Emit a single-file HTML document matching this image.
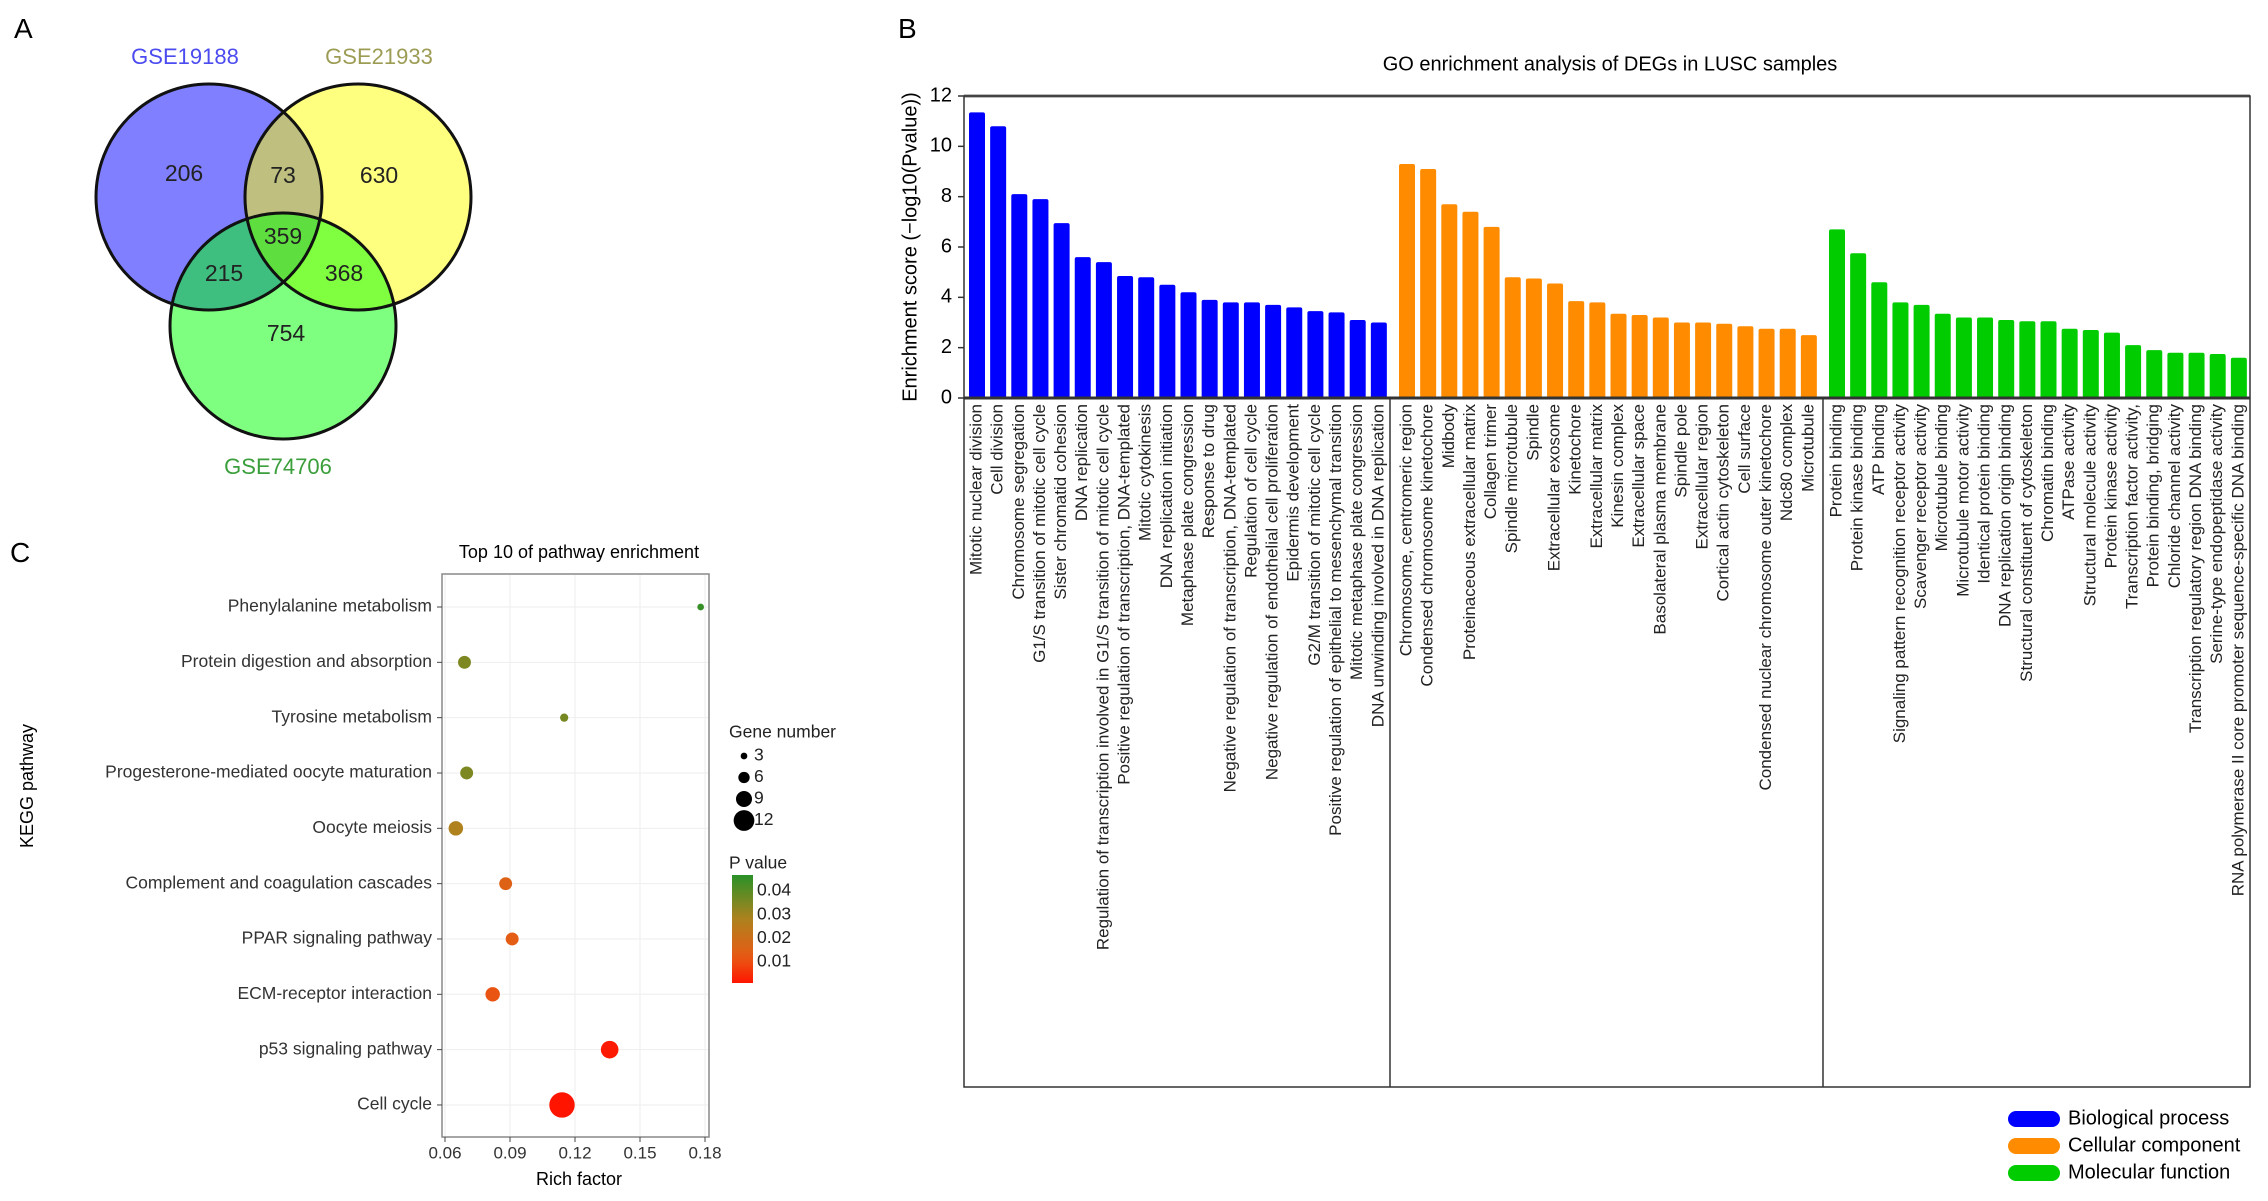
<!DOCTYPE html>
<html><head><meta charset="utf-8"><style>
body{margin:0;background:#fff;}
svg{display:block;font-family:"Liberation Sans",sans-serif;}
</style></head><body>
<svg id="fig" width="2268" height="1201" viewBox="0 0 2268 1201">
<!-- Panel A Venn -->
<g>
<text x="14" y="38" font-size="28">A</text>
<circle cx="209" cy="197" r="113" fill="rgba(0,0,255,0.5)"/>
<circle cx="358" cy="197" r="113" fill="rgba(255,255,0,0.5)"/>
<circle cx="283" cy="326" r="113" fill="rgba(0,255,0,0.5)"/>
<circle cx="209" cy="197" r="113" fill="none" stroke="#111" stroke-width="3"/>
<circle cx="358" cy="197" r="113" fill="none" stroke="#111" stroke-width="3"/>
<circle cx="283" cy="326" r="113" fill="none" stroke="#111" stroke-width="3"/>
<g font-size="23" text-anchor="middle" dominant-baseline="middle" fill="#222">
<text x="184" y="175">206</text>
<text x="283" y="177">73</text>
<text x="379" y="177">630</text>
<text x="283" y="238">359</text>
<text x="224" y="275">215</text>
<text x="344" y="275">368</text>
<text x="286" y="335">754</text>
</g>
<g font-size="22" text-anchor="middle" dominant-baseline="middle">
<text x="185" y="58" fill="#4b4bf0">GSE19188</text>
<text x="379" y="58" fill="#9c9c55">GSE21933</text>
<text x="278" y="468" fill="#3a9e3a">GSE74706</text>
</g>
</g>
<!-- Panel B -->
<g id="panelB">
<text x="898" y="38" font-size="28">B</text>
<text x="1610" y="65" font-size="20" text-anchor="middle" dominant-baseline="middle">GO enrichment analysis of DEGs in LUSC samples</text>
<text transform="translate(911,247) rotate(-90)" font-size="20" text-anchor="middle" dominant-baseline="middle">Enrichment score (−log10(Pvalue))</text>
</g>
<!-- Panel C -->
<g id="panelC">
<text x="10" y="562" font-size="28">C</text>
<text x="579" y="553" font-size="18" text-anchor="middle" dominant-baseline="middle">Top 10 of pathway enrichment</text>
<text transform="translate(28,786) rotate(-90)" font-size="18" text-anchor="middle" dominant-baseline="middle">KEGG pathway</text>
<text x="579" y="1180" font-size="18" text-anchor="middle" dominant-baseline="middle">Rich factor</text>
</g>
</svg>
<script>
const NS='http://www.w3.org/2000/svg';
const bpLabels=["Mitotic nuclear division","Cell division","Chromosome segregation","G1/S transition of mitotic cell cycle","Sister chromatid cohesion","DNA replication","Regulation of transcription involved in G1/S transition of mitotic cell cycle","Positive regulation of transcription, DNA-templated","Mitotic cytokinesis","DNA replication initiation","Metaphase plate congression","Response to drug","Negative regulation of transcription, DNA-templated","Regulation of cell cycle","Negative regulation of endothelial cell proliferation","Epidermis development","G2/M transition of mitotic cell cycle","Positive regulation of epithelial to mesenchymal transition","Mitotic metaphase plate congression","DNA unwinding involved in DNA replication"];
const bpValues=[11.35,10.8,8.1,7.9,6.95,5.6,5.4,4.85,4.8,4.5,4.2,3.9,3.8,3.8,3.7,3.6,3.45,3.4,3.1,3.0];
const ccLabels=["Chromosome, centromeric region","Condensed chromosome kinetochore","Midbody","Proteinaceous extracellular matrix","Collagen trimer","Spindle microtubule","Spindle","Extracellular exosome","Kinetochore","Extracellular matrix","Kinesin complex","Extracellular space","Basolateral plasma membrane","Spindle pole","Extracellular region","Cortical actin cytoskeleton","Cell surface","Condensed nuclear chromosome outer kinetochore","Ndc80 complex","Microtubule"];
const ccValues=[9.3,9.1,7.7,7.4,6.8,4.8,4.75,4.55,3.85,3.8,3.35,3.3,3.2,3.0,3.0,2.95,2.85,2.75,2.75,2.5];
const mfLabels=["Protein binding","Protein kinase binding","ATP binding","Signaling pattern recognition receptor activity","Scavenger receptor activity","Microtubule binding","Microtubule motor activity","Identical protein binding","DNA replication origin binding","Structural constituent of cytoskeleton","Chromatin binding","ATPase activity","Structural molecule activity","Protein kinase activity","Transcription factor activity,","Protein binding, bridging","Chloride channel activity","Transcription regulatory region DNA binding","Serine-type endopeptidase activity","RNA polymerase II core promoter sequence-specific DNA binding"];
const mfValues=[6.7,5.75,4.6,3.8,3.7,3.35,3.2,3.2,3.1,3.05,3.05,2.75,2.7,2.6,2.1,1.9,1.8,1.8,1.75,1.6];
const yTicks=[0,2,4,6,8,10,12];
const groupNames=["Biological process","Cellular component","Molecular function"];
const groupColors=["#0000ff","#ff8c00","#00cc00"];

const keggPathways=["Phenylalanine metabolism","Protein digestion and absorption","Tyrosine metabolism","Progesterone-mediated oocyte maturation","Oocyte meiosis","Complement and coagulation cascades","PPAR signaling pathway","ECM-receptor interaction","p53 signaling pathway","Cell cycle"];
const richFactor=[0.178,0.069,0.115,0.070,0.065,0.088,0.091,0.082,0.136,0.114];
const geneNumber=[3,7,4,7,8,7,7,8,10,15];
const pValue=[0.045,0.035,0.036,0.035,0.028,0.015,0.013,0.011,0.002,0.001];
const xTicks=[0.06,0.09,0.12,0.15,0.18];
const sizeLegend=[3,6,9,12];
const pTicks=[0.04,0.03,0.02,0.01];

function mk(tag,attrs,parent){const e=document.createElementNS(NS,tag);for(const k in attrs)e.setAttribute(k,attrs[k]);parent.appendChild(e);return e;}
const B=document.getElementById('panelB');
const y0=398,yTop=96,ppu=(y0-yTop)/12;
const yB=v=>y0-v*ppu;
const xB=(g,i)=>977+(g*20+i)*21.15+g*7;
// frame
mk('line',{x1:964,y1:yTop,x2:2250,y2:yTop,stroke:'#777','stroke-width':3},B);
mk('rect',{x:964,y:yTop,width:1286,height:991,fill:'none',stroke:'#333','stroke-width':1.5},B);
[1390,1823].forEach(x=>mk('line',{x1:x,y1:y0,x2:x,y2:1087,stroke:'#333','stroke-width':1.5},B));
// y ticks
yTicks.forEach(t=>{
 mk('line',{x1:958,y1:yB(t),x2:964,y2:yB(t),stroke:'#333','stroke-width':1.5},B);
 const tx=mk('text',{x:952,y:yB(t),'font-size':20,'text-anchor':'end','dominant-baseline':'middle'},B);
 tx.textContent=t;
 
 
});
[[bpLabels,bpValues],[ccLabels,ccValues],[mfLabels,mfValues]].forEach(([labs,vals],g)=>{
 vals.forEach((v,i)=>{
  const cx=xB(g,i);
  const r=mk('rect',{x:cx-8,y:yB(v),width:16,height:y0-yB(v),fill:groupColors[g],rx:2},B);
  
  
  const t=mk('text',{x:cx,y:404,'font-size':17,'text-anchor':'end','dominant-baseline':'middle',transform:`rotate(-90 ${cx} 404)`,fill:'#222'},B);
  t.textContent=labs[i];
  
  
 });
});
mk('line',{x1:964,y1:y0,x2:2250,y2:y0,stroke:'#333','stroke-width':3},B);
groupNames.forEach((n,g)=>{
 const yy=1119+g*27;
 const s=mk('rect',{x:2008,y:yy-8,width:52,height:16,rx:8,fill:groupColors[g]},B);
 
 
 const t=mk('text',{x:2068,y:yy,'font-size':20,'dominant-baseline':'middle'},B);
 t.textContent=n;
 
 
});
// Panel C
const C=document.getElementById('panelC');
const xC=v=>445+(v-0.06)*(705-445)/0.12;
const yC=i=>607+i*55.33;
const rC=n=>1+0.78*n;
function pColor(p){
 const stops=[[0.001,[255,20,0]],[0.012,[232,90,20]],[0.028,[175,130,30]],[0.047,[40,145,40]]];
 if(p<=stops[0][0])return 'rgb('+stops[0][1]+')';
 for(let k=1;k<stops.length;k++){if(p<=stops[k][0]){const a=stops[k-1],b=stops[k];const f=(p-a[0])/(b[0]-a[0]);return 'rgb('+a[1].map((c,j)=>Math.round(c+(b[1][j]-c)*f)).join(',')+')';}}
 return 'rgb('+stops[3][1]+')';
}
mk('rect',{x:442,y:574,width:267,height:563,fill:'#fff',stroke:'#888','stroke-width':1.5},C);
xTicks.forEach(t=>{
 mk('line',{x1:xC(t),y1:575,x2:xC(t),y2:1136,stroke:'#eee','stroke-width':1},C);
 mk('line',{x1:xC(t),y1:1137,x2:xC(t),y2:1142,stroke:'#444','stroke-width':1},C);
 const tx=mk('text',{x:xC(t),y:1154,'font-size':17,'text-anchor':'middle','dominant-baseline':'middle',fill:'#333'},C);
 tx.textContent=t.toFixed(2);
 
 
});
keggPathways.forEach((n,i)=>{
 mk('line',{x1:443,y1:yC(i),x2:708,y2:yC(i),stroke:'#eee','stroke-width':1},C);
 mk('line',{x1:437,y1:yC(i),x2:442,y2:yC(i),stroke:'#444','stroke-width':1},C);
 const t=mk('text',{x:432,y:yC(i),'font-size':17.5,'text-anchor':'end','dominant-baseline':'middle',fill:'#333'},C);
 t.textContent=n;
 
 
});
keggPathways.forEach((n,i)=>{
 const c=mk('circle',{cx:xC(richFactor[i]),cy:yC(i),r:rC(geneNumber[i]),fill:pColor(pValue[i])},C);
 
 
});
const gt=mk('text',{x:729,y:733,'font-size':17.5,'dominant-baseline':'middle',fill:'#222'},C);
gt.textContent='Gene number';


sizeLegend.forEach((s,k)=>{
 const yy=756+k*21.5;
 mk('circle',{cx:744,cy:yy,r:rC(s),fill:'#000'},C);
 const t=mk('text',{x:754,y:yy,'font-size':17.5,'dominant-baseline':'middle',fill:'#222'},C);
 t.textContent=s;
 
 
});
const pt=mk('text',{x:729,y:864,'font-size':17.5,'dominant-baseline':'middle',fill:'#222'},C);
pt.textContent='P value';


const defs=mk('defs',{},C);
const lg=mk('linearGradient',{id:'pg',x1:0,y1:1,x2:0,y2:0},defs);
for(let k=0;k<=10;k++){const p=0.0011+k*(0.0468-0.0011)/10;mk('stop',{offset:k/10,'stop-color':pColor(p)},lg);}
const pyC=p=>891+(0.04-p)*(962-891)/0.03;
const cb=mk('rect',{x:732,y:875,width:21,height:108,fill:'url(#pg)'},C);


pTicks.forEach(p=>{
 const t=mk('text',{x:757,y:pyC(p),'font-size':17.5,'dominant-baseline':'middle',fill:'#222'},C);
 t.textContent=p.toFixed(2);
 
 
});
</script>
</body></html>
